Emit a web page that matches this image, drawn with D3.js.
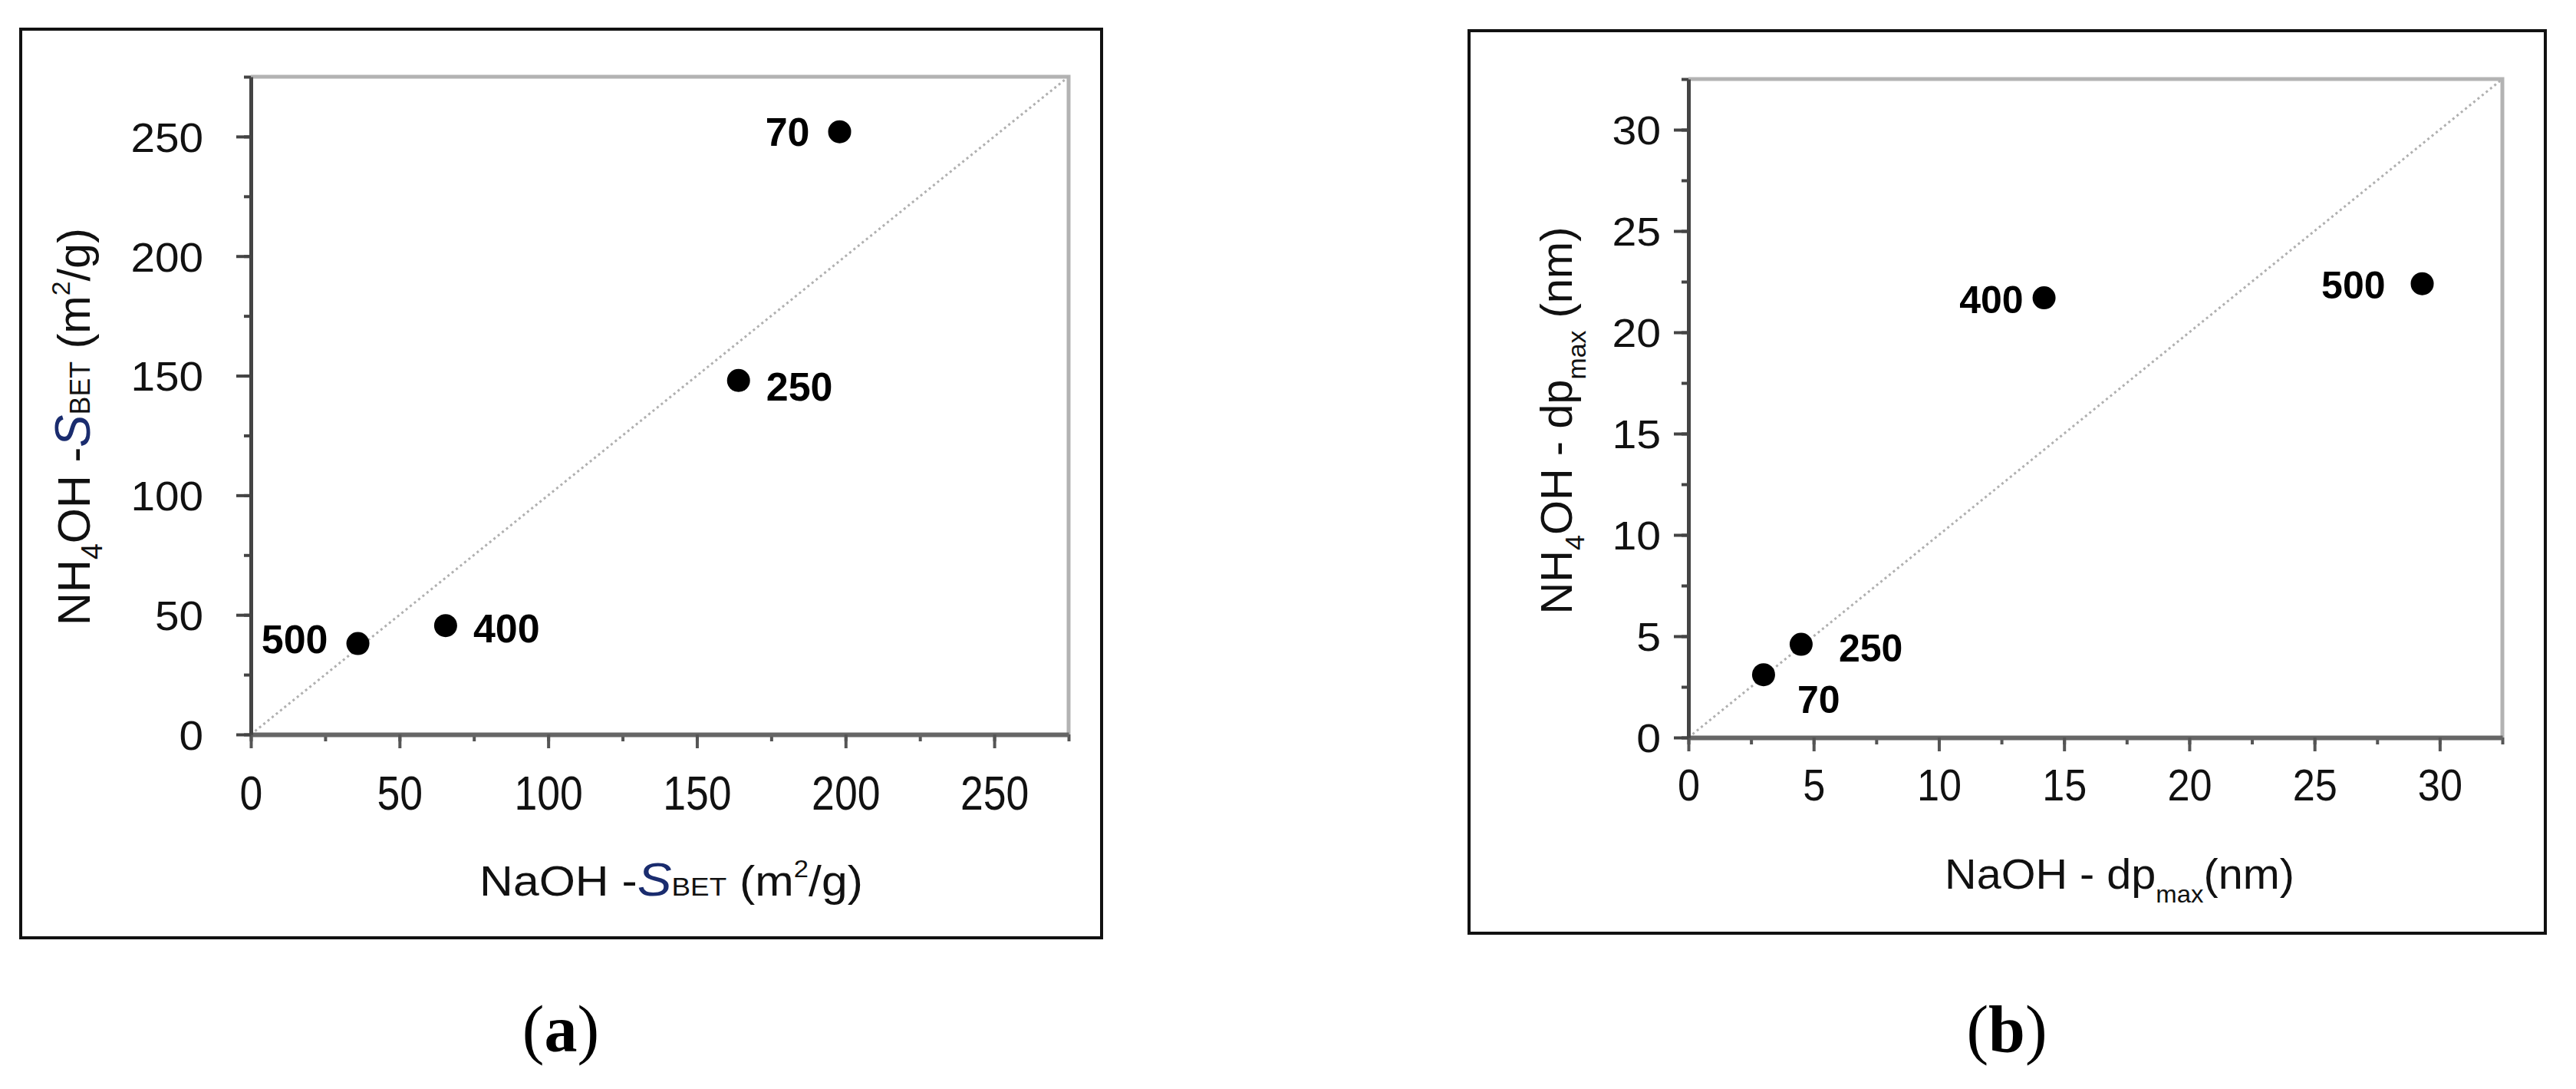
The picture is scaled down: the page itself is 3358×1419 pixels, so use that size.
<!DOCTYPE html>
<html>
<head>
<meta charset="utf-8">
<script src="https://cdn.jsdelivr.net/npm/d3@7"></script>
<style>
body { margin: 0; background: #fff; }
text { font-family: "Liberation Sans", Arial, sans-serif; }
text.caption { font-family: "Liberation Serif", "Times New Roman", serif; }
</style>
</head>
<body>
<svg id="chart"></svg>
<script>
// (a) BET surface area, NaOH vs NH4OH, labelled by temperature
var labelsA = ["70", "250", "400", "500"];
var naohBet = [198, 164, 65.5, 36];
var nh4ohBet = [252, 148, 45.5, 38];
var ticksA = [0, 50, 100, 150, 200, 250];

// (b) pore diameter at max, NaOH vs NH4OH
var labelsB = ["70", "250", "400", "500"];
var naohDp = [3.0, 4.5, 14.2, 29.3];
var nh4ohDp = [3.1, 4.6, 21.7, 22.4];
var ticksB = [0, 5, 10, 15, 20, 25, 30];

var width = 3358;
var height = 1419;

var svg = d3.select("#chart")
    .attr("width", width)
    .attr("height", height)
    .style("background", "#fff");

var panels = [
    {
        labels: labelsA, xs: naohBet, ys: nh4ohBet, ticks: ticksA,
        max: 275, minorStep: 25,
        left: 327, right: 1393, top: 100, bottom: 957,
        frame: [27, 38, 1436, 1222],
        xTickFont: 63, xTickScale: 0.85, xTickBase: 98,
        yTickFont: 54, yTickScale: 1.05, yTickGap: 62,
        labelFont: 52,
        // label placement relative to point: dx, dy, anchor
        place: {"70": [-39, 18, "end"], "250": [36, 26, "start"], "400": [36, 22, "start"], "500": [-39, 12, "end"]},
        xTitle: {cx: 875, cy: 1167, w: 500, size: 56, parts: [
            {t: "NaOH -"}, {t: "S", italic: true, size: 62, fill: "#1a2c6e"}, {t: "BET", size: 34},
            {t: " (m"}, {t: "2", size: 32, shift: -24}, {t: "/g)"}]},
        yTitle: {cx: 117, cy: 556, w: 518, size: 60, parts: [
            {t: "NH"}, {t: "4", size: 38, shift: 16}, {t: "OH -"}, {t: "S", italic: true, size: 64, fill: "#1a2c6e"},
            {t: "BET", size: 36}, {t: " (m"}, {t: "2", size: 34, shift: -26}, {t: "/g)"}]},
        caption: {x: 731, letter: "a"}
    },
    {
        labels: labelsB, xs: naohDp, ys: nh4ohDp, ticks: ticksB,
        max: 32.5, minorStep: 2.5,
        left: 2201, right: 3262, top: 103, bottom: 961,
        frame: [1915, 40, 3318, 1216],
        xTickFont: 58, xTickScale: 0.9, xTickBase: 82,
        yTickFont: 52, yTickScale: 1.1, yTickGap: 36,
        labelFont: 50,
        place: {"70": [44, 50, "start"], "250": [49, 22, "start"], "400": [-27, 20, "end"], "500": [-48, 19, "end"]},
        xTitle: {cx: 2763, cy: 1158, w: 456, size: 56, parts: [
            {t: "NaOH - dp"}, {t: "max", size: 32, shift: 18}, {t: "(nm)"}]},
        yTitle: {cx: 2049, cy: 548, w: 505, size: 58, parts: [
            {t: "NH"}, {t: "4", size: 36, shift: 16}, {t: "OH - dp"}, {t: "max", size: 34, shift: 18}, {t: " (nm)"}]},
        caption: {x: 2616, letter: "b"}
    }
];

panels.forEach(drawPanel);

function drawPanel(p) {
    var g = svg.append("g");

    var x = d3.scaleLinear().domain([0, p.max]).range([p.left, p.right]);
    var y = d3.scaleLinear().domain([0, p.max]).range([p.bottom, p.top]);

    // outer box
    g.append("rect")
        .attr("x", p.frame[0])
        .attr("y", p.frame[1])
        .attr("width", p.frame[2] - p.frame[0])
        .attr("height", p.frame[3] - p.frame[1])
        .attr("fill", "none")
        .attr("stroke", "#111")
        .attr("stroke-width", 4);

    // light top / right edges of the plot
    g.append("path")
        .attr("d", "M" + x(0) + "," + y(p.max) + "H" + x(p.max) + "V" + y(0))
        .attr("fill", "none")
        .attr("stroke", "#b3b3b3")
        .attr("stroke-width", 5);

    // 1:1 line
    g.append("line")
        .attr("x1", x(0)).attr("y1", y(0))
        .attr("x2", x(p.max)).attr("y2", y(p.max))
        .attr("stroke", "#b0b0b0")
        .attr("stroke-width", 3)
        .attr("stroke-dasharray", "3,4");

    var minors = d3.range(0, p.max + 0.001, p.minorStep);

    // minor ticks
    g.append("g")
        .attr("transform", "translate(0," + y(0) + ")")
        .call(d3.axisBottom(x).tickValues(minors).tickSize(9).tickFormat(""))
        .call(function(a) { a.select(".domain").remove(); })
        .selectAll("line").attr("stroke", "#555").attr("stroke-width", 4);
    g.append("g")
        .attr("transform", "translate(" + x(0) + ",0)")
        .call(d3.axisLeft(y).tickValues(minors).tickSize(9).tickFormat(""))
        .call(function(a) { a.select(".domain").remove(); })
        .selectAll("line").attr("stroke", "#444").attr("stroke-width", 4);

    // x axis
    var xa = g.append("g")
        .attr("transform", "translate(0," + y(0) + ")")
        .call(d3.axisBottom(x).tickValues(p.ticks).tickSize(18).tickSizeOuter(0));
    xa.select(".domain").attr("stroke", "#666").attr("stroke-width", 6);
    xa.selectAll(".tick line").attr("stroke", "#555").attr("stroke-width", 4);
    xa.selectAll(".tick text")
        .attr("y", 0).attr("dy", null)
        .attr("transform", "translate(0," + p.xTickBase + ") scale(" + p.xTickScale + ",1)")
        .attr("font-size", p.xTickFont)
        .attr("font-family", "'Liberation Sans', Arial, sans-serif")
        .attr("fill", "#111");

    // y axis
    var ya = g.append("g")
        .attr("transform", "translate(" + x(0) + ",0)")
        .call(d3.axisLeft(y).tickValues(p.ticks).tickSize(19).tickSizeOuter(0));
    ya.select(".domain").attr("stroke", "#444").attr("stroke-width", 5);
    ya.selectAll(".tick line").attr("stroke", "#444").attr("stroke-width", 4);
    ya.selectAll(".tick text")
        .attr("x", 0).attr("dy", "0.36em")
        .attr("transform", "translate(" + (-p.yTickGap) + ",0) scale(" + p.yTickScale + ",1)")
        .attr("font-size", p.yTickFont)
        .attr("font-family", "'Liberation Sans', Arial, sans-serif")
        .attr("fill", "#111");

    // points
    var pts = p.labels.map(function(l, i) { return {label: l, x: p.xs[i], y: p.ys[i]}; });

    g.append("g").selectAll("circle")
        .data(pts)
        .enter().append("circle")
        .attr("cx", function(d) { return x(d.x); })
        .attr("cy", function(d) { return y(d.y); })
        .attr("r", 15)
        .attr("fill", "#000");

    g.append("g").selectAll("text")
        .data(pts)
        .enter().append("text")
        .attr("x", function(d) { return x(d.x) + p.place[d.label][0]; })
        .attr("y", function(d) { return y(d.y) + p.place[d.label][1]; })
        .attr("text-anchor", function(d) { return p.place[d.label][2]; })
        .attr("font-size", p.labelFont)
        .attr("font-weight", "bold")
        .attr("fill", "#000")
        .text(function(d) { return d.label; });

    richText(g, p.xTitle, 0);
    richText(g, p.yTitle, -90);

    // (a) / (b)
    var cap = svg.append("text")
        .attr("class", "caption")
        .attr("x", p.caption.x)
        .attr("y", 1370)
        .attr("text-anchor", "middle")
        .attr("font-size", 86)
        .attr("fill", "#000");
    cap.append("tspan").text("(");
    cap.append("tspan").attr("font-weight", "bold").text(p.caption.letter);
    cap.append("tspan").text(")");
}

// title with sub/superscripts, squeezed to the measured width
function richText(g, t, angle) {
    var txt = g.append("text")
        .attr("x", 0).attr("y", 0)
        .attr("text-anchor", "middle")
        .attr("font-size", t.size)
        .attr("fill", "#111");
    var cur = 0;
    t.parts.forEach(function(pt) {
        var s = pt.shift || 0;
        var ts = txt.append("tspan")
            .attr("dy", s - cur)
            .text(pt.t);
        cur = s;
        if (pt.size) ts.attr("font-size", pt.size);
        if (pt.italic) ts.attr("font-style", "italic");
        if (pt.fill) ts.attr("fill", pt.fill);
    });
    var w = txt.node().getComputedTextLength();
    var k = t.w / w;
    txt.attr("transform", "translate(" + t.cx + "," + t.cy + ") rotate(" + angle + ") scale(" + k + ",1)");
}
</script>
</body>
</html>
